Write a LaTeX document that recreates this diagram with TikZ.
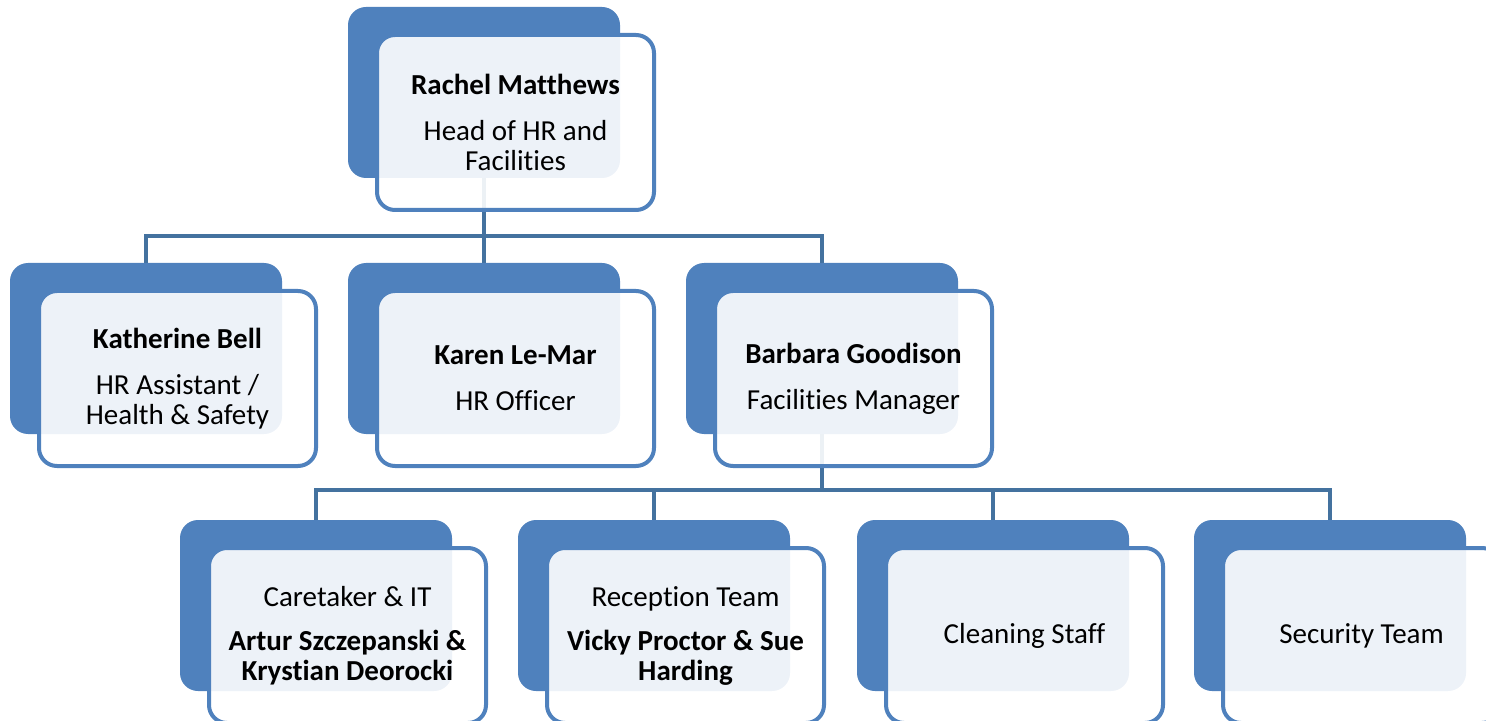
\documentclass[tikz,border=0pt]{standalone}
\usepackage{fontspec}
\setmainfont[Ligatures=NoCommon,RawFeature={-liga;-clig}]{Carlito}
\usetikzlibrary{backgrounds}
\definecolor{bk}{HTML}{4F81BD}
\definecolor{cn}{HTML}{44729F}
\begin{document}
\begin{tikzpicture}[x=0.5pt,y=-0.5pt,
 back/.style={fill=bk, draw=none, rounded corners=9pt, minimum width=136pt, minimum height=85.5pt, inner sep=0pt},
 front/.style={fill=white, fill opacity=0.9, text opacity=1, draw=bk, line width=2pt, rounded corners=9pt, minimum width=138.5pt, minimum height=87.5pt, inner sep=0pt, align=center, font=\fontsize{14.5}{15}\selectfont},
 conn/.style={draw=cn, line width=2pt}]
\useasboundingbox (0,0) rectangle (1486,721);
\clip (0,0) rectangle (1486,721);
% back boxes
\node[back] (rB) at (484,92.5) {};
\node[back] (kbB) at (146,348.5) {};
\node[back] (klmB) at (484,348.5) {};
\node[back] (bgB) at (822,348.5) {};
\node[back] (ctB) at (316,605.5) {};
\node[back] (rtB) at (654,605.5) {};
\node[back] (csB) at (993,605.5) {};
\node[back] (stB) at (1330,605.5) {};
% front boxes
\node[front] (r) at (515.5,122.5) {\textbf{Rachel Matthews}\\[8pt]Head of HR and\\Facilities};
\node[front] (kb) at (177.5,378.5) {\textbf{Katherine Bell}\\[8pt]HR Assistant /\\Health \& Safety};
\node[front] (klm) at (515.5,378.5) {\textbf{Karen Le-Mar}\\[8pt]HR Officer};
\node[front] (bg) at (853.5,378.5) {\textbf{Barbara Goodison}\\[8pt]Facilities Manager};
\node[front] (ct) at (347.5,635.5) {Caretaker \& IT\\[7pt]\textbf{Artur Szczepanski \&}\\\textbf{Krystian Deorocki}};
\node[front] (rt) at (685.5,635.5) {Reception Team\\[7pt]\textbf{Vicky Proctor \& Sue}\\\textbf{Harding}};
\node[front] (cs) at (1024.5,635.5) {Cleaning Staff};
\node[front] (st) at (1361.5,635.5) {Security Team};
% connectors
\begin{scope}[on background layer]
\draw[conn] (kbB.north) -- ++(0,-27) -| (bgB.north);
\draw[conn] (rB.south) -- (klmB.north);
\draw[conn] (ctB.north) -- ++(0,-30) -| (stB.north);
\draw[conn] (rtB.north) -- ++(0,-30);
\draw[conn] (csB.north) -- ++(0,-30);
\draw[conn] (bgB.south) -- ++(0,57);
\end{scope}
\end{tikzpicture}
\end{document}
